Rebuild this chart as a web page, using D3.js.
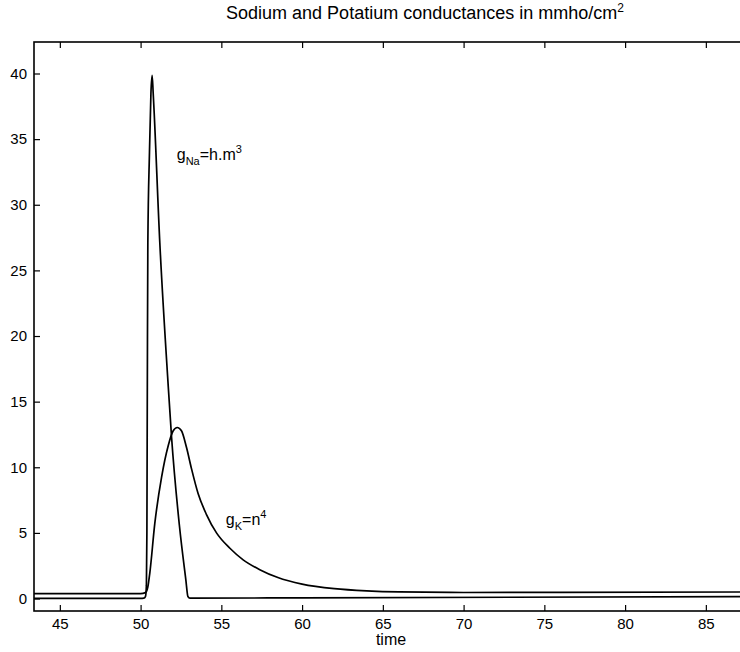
<!DOCTYPE html>
<html>
<head>
<meta charset="utf-8">
<script src="https://cdn.jsdelivr.net/npm/d3@7"></script>
<style>
  body { margin: 0; background: #fff; }
  svg { font-family: "Liberation Sans", Arial, Helvetica, sans-serif; }
</style>
</head>
<body>
<svg id="chart" width="740" height="652"></svg>
<script>
// tick values
var xTicks = [45, 50, 55, 60, 65, 70, 75, 80, 85]
var yTicks = [0, 5, 10, 15, 20, 25, 30, 35, 40]

// sodium conductance gNa = h.m^3
var naTime  = [43.4, 50.0, 50.2, 50.3, 50.36, 50.39, 50.418, 50.449, 50.55, 50.64, 50.715, 50.78, 51.19, 51.69, 51.92, 52.4, 52.8, 52.93, 53.05, 60, 87.3]
var naValue = [0.01, 0.01, 0.03, 0.15, 1.0, 5, 16.6, 27.1, 34, 38.5, 39.85, 38.5, 27.1, 16.6, 12.25, 5.6, 1.44, 0.15, 0.03, 0.05, 0.15]

// potassium conductance gK = n^4
var kTime  = [43.4, 50.0, 50.3, 50.45, 50.57, 50.88, 51.30, 51.71, 52.02, 52.27, 52.53, 52.84, 53.15, 53.56, 54.08, 54.70, 55.53, 56.35, 57.38, 58.5, 60, 62, 64, 66, 70, 87.3]
var kValue = [0.37, 0.37, 0.45, 0.9, 1.94, 5.72, 9.25, 11.64, 12.78, 13.03, 12.78, 11.52, 9.9, 8.0, 6.4, 5.0, 3.83, 2.95, 2.2, 1.6, 1.1, 0.75, 0.58, 0.5, 0.46, 0.5]

const svg = d3.select("#chart")
const margin = { top: 42, left: 34, bottom: 611, right: 743 }

const x = d3.scaleLinear().domain([43.4, 87.3]).range([margin.left, margin.right])
const y = d3.scaleLinear().domain([-0.95, 42.4]).range([margin.bottom, margin.top])

const zip = (t, v) => t.map((d, i) => ({ t: d, v: v[i] }))

const line = d3.line()
  .x(d => x(d.t))
  .y(d => y(d.v))
  .curve(d3.curveMonotoneX)

// frame
svg.append("rect")
  .attr("x", margin.left)
  .attr("y", margin.top)
  .attr("width", margin.right - margin.left)
  .attr("height", margin.bottom - margin.top)
  .attr("fill", "none")
  .attr("stroke", "#000")
  .attr("stroke-width", 1.6)

const styleAxis = g => {
  g.select(".domain").remove()
  g.selectAll(".tick line").attr("stroke", "#000").attr("stroke-width", 1.2)
  g.attr("font-family", "Liberation Sans, Arial, sans-serif")
   .attr("font-size", 15)
  g.selectAll(".tick text").attr("fill", "#000")
}

svg.append("g")
  .attr("transform", `translate(0,${margin.bottom})`)
  .call(d3.axisBottom(x).tickValues(xTicks).tickSize(-6).tickPadding(7))
  .call(styleAxis)

svg.append("g")
  .attr("transform", `translate(0,${margin.top})`)
  .call(d3.axisTop(x).tickValues(xTicks).tickSize(-6).tickFormat(""))
  .call(styleAxis)

svg.append("g")
  .attr("transform", `translate(${margin.left},0)`)
  .call(d3.axisLeft(y).tickValues(yTicks).tickSize(-6).tickPadding(7))
  .call(styleAxis)

// curves
svg.append("path")
  .datum(zip(kTime, kValue))
  .attr("d", line)
  .attr("fill", "none")
  .attr("stroke", "#000")
  .attr("stroke-width", 1.7)

svg.append("path")
  .datum(zip(naTime, naValue))
  .attr("d", line)
  .attr("fill", "none")
  .attr("stroke", "#000")
  .attr("stroke-width", 1.7)

// title
const title = svg.append("text")
  .attr("x", 425)
  .attr("y", 19)
  .attr("text-anchor", "middle")
  .attr("font-size", 18)
  .text("Sodium and Potatium conductances in mmho/cm")
title.append("tspan").attr("font-size", 12).attr("dy", -7).text("2")

// x label
svg.append("text")
  .attr("x", 391)
  .attr("y", 645)
  .attr("text-anchor", "middle")
  .attr("font-size", 16)
  .text("time")

// curve labels
const naLab = svg.append("text")
  .attr("x", x(52.24))
  .attr("y", y(33.4))
  .attr("font-size", 16)
naLab.append("tspan").text("g")
naLab.append("tspan").attr("font-size", 11).attr("dy", 5).text("Na")
naLab.append("tspan").attr("dy", -5).text("=h.m")
naLab.append("tspan").attr("font-size", 11).attr("dy", -7).text("3")

const kLab = svg.append("text")
  .attr("x", x(55.28))
  .attr("y", y(5.6))
  .attr("font-size", 16)
kLab.append("tspan").text("g")
kLab.append("tspan").attr("font-size", 11).attr("dy", 5).text("K")
kLab.append("tspan").attr("dy", -5).text("=n")
kLab.append("tspan").attr("font-size", 11).attr("dy", -7).text("4")
</script>
</body>
</html>
